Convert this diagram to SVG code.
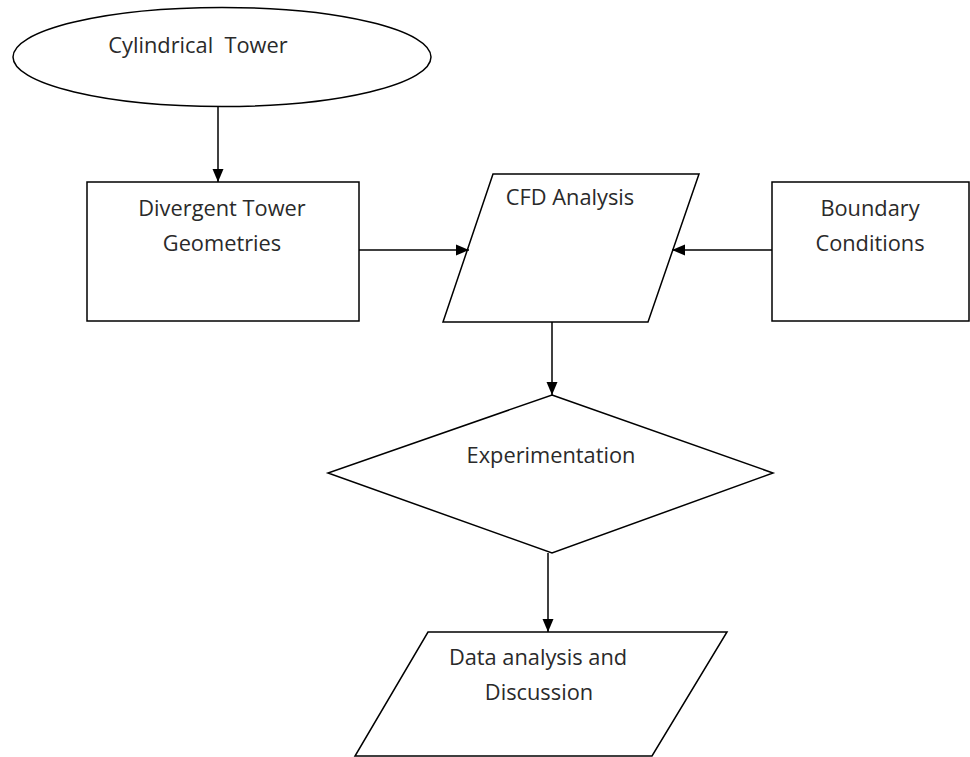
<svg xmlns="http://www.w3.org/2000/svg" width="970" height="757" viewBox="0 0 970 757">
<style>
.shape{fill:#fff;stroke:#000;stroke-width:1.5}
.lbl{font-family:"Open Sans","Liberation Sans",sans-serif;font-size:21.8px;fill:#2a2a2a;text-anchor:middle}
.conn{stroke:#000;stroke-width:1.5;fill:none;marker-end:url(#arr)}
</style>
<defs>
<marker id="arr" markerWidth="13" markerHeight="13" viewBox="0 0 13 12" refX="13" refY="6" orient="auto" markerUnits="userSpaceOnUse">
<path d="M0,0.5 L13,6 L0,11.5 Z" fill="#000"/>
</marker>
</defs>
<rect width="970" height="757" fill="#fff"/>
<g id="cylindrical-tower">
<ellipse class="shape" cx="222" cy="57" rx="209" ry="49.5"/>
<text class="lbl" x="198" y="53" xml:space="preserve">Cylindrical  Tower</text>
</g>
<g id="divergent-tower">
<rect class="shape" x="87" y="182" width="272" height="139"/>
<text class="lbl" x="222" y="216">Divergent Tower</text>
<text class="lbl" x="222" y="251">Geometries</text>
</g>
<g id="cfd-analysis">
<polygon class="shape" points="493,174 699,174 648,322 443,322"/>
<text class="lbl" x="570" y="205">CFD Analysis</text>
</g>
<g id="boundary-conditions">
<rect class="shape" x="772" y="182" width="197" height="139"/>
<text class="lbl" x="870" y="216">Boundary</text>
<text class="lbl" x="870" y="251">Conditions</text>
</g>
<g id="experimentation">
<polygon class="shape" points="552,395 773,473 552,553 328,473"/>
<text class="lbl" x="551" y="463">Experimentation</text>
</g>
<g id="data-analysis">
<polygon class="shape" points="428,632 727,632 652,756 355,756"/>
<text class="lbl" x="538" y="665">Data analysis and</text>
<text class="lbl" x="539" y="700">Discussion</text>
</g>
<g id="connectors">
<line class="conn" x1="218" y1="107" x2="218" y2="182"/>
<line class="conn" x1="359" y1="250" x2="469" y2="250"/>
<line class="conn" x1="772" y1="250" x2="672" y2="250"/>
<line class="conn" x1="552" y1="322" x2="552" y2="395"/>
<line class="conn" x1="548" y1="553" x2="548" y2="632"/>
</g>
</svg>
